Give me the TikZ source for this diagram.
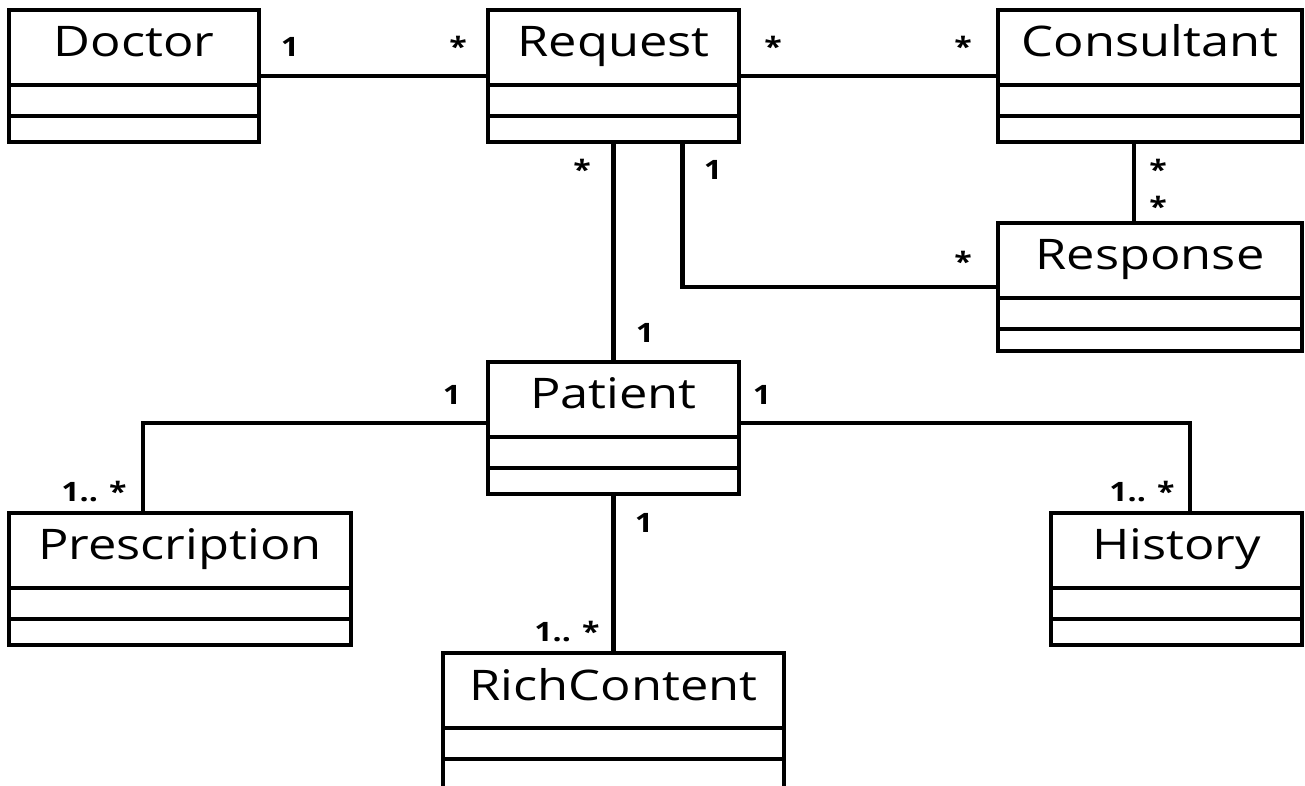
\documentclass[tikz,border=0pt]{standalone}
\usepackage{fontspec}
\setmainfont[FakeStretch=1.2]{Open Sans}
\usepackage{tikz}
\usetikzlibrary{positioning}

\tikzset{
    classbox/.style={draw, rectangle, inner sep=0pt, outer sep=0pt, minimum width=2.51cm, minimum height=1.32cm},
    classname/.style={anchor=base, inner sep=0pt, font=\fontsize{12}{14}\selectfont},
    mult/.style={anchor=base, inner sep=0pt, font=\fontsize{7.6}{9}\selectfont\bfseries}
}

% class box with name and two empty compartments
\newcommand{\umlclass}[4][]{%
    \node[classbox, #1] (#2) at (#3) {};
    \node[classname] (#2name) at ([yshift=-0.47cm]#2.north) {#4};
    \draw ([yshift=-0.75cm]#2.north west) -- ([yshift=-0.75cm]#2.north east);
    \draw ([yshift=-1.06cm]#2.north west) -- ([yshift=-1.06cm]#2.north east);
}

\begin{document}
\begin{tikzpicture}[line width=1.3pt]
                    \useasboundingbox (0,0) rectangle (13.05,-7.86);
                    % classes
                    \umlclass[minimum width=2.50cm]{doctor}{1.34,-0.76}{Doctor}
                    \umlclass{request}{6.135,-0.76}{Request}
                    \umlclass[minimum width=3.04cm]{consultant}{11.50,-0.76}{Consultant}
                    \umlclass[minimum width=3.04cm, minimum height=1.28cm]{response}{11.50,-2.87}{Response}
                    \umlclass{patient}{6.135,-4.28}{Patient}
                    \umlclass[minimum width=3.42cm]{prescription}{1.80,-5.79}{Prescription}
                    \umlclass{history}{11.765,-5.79}{History}
                    \umlclass[minimum width=3.41cm, minimum height=1.37cm]{richcontent}{6.135,-7.215}{RichContent}
                    % associations
                    \draw (doctor.east) -- (request.west);
                    \draw (request.east) -- (consultant.west);
                    \draw (request.south) -- (patient.north);
                    \draw ([xshift=0.69cm]request.south) |- (response.west);
                    \draw ([xshift=-0.16cm]consultant.south) -- ([xshift=-0.16cm]response.north);
                    \draw ([yshift=0.05cm]patient.west) -| ([xshift=-0.37cm]prescription.north);
                    \draw ([yshift=0.05cm]patient.east) -| ([xshift=0.135cm]history.north);
                    \draw (patient.south) -- (richcontent.north);
                    % multiplicities
                    \node[mult] (m1) at (2.90,-0.57) {1};
                    \node[mult] (m2) at (4.58,-0.57) {*};
                    \node[mult] (m3) at (7.73,-0.57) {*};
                    \node[mult] (m4) at (9.63,-0.57) {*};
                    \node[mult] (m5) at (5.82,-1.80) {*};
                    \node[mult] (m6) at (7.13,-1.80) {1};
                    \node[mult] (m7) at (11.58,-1.80) {*};
                    \node[mult] (m8) at (11.58,-2.17) {*};
                    \node[mult] (m9) at (9.63,-2.72) {*};
                    \node[mult] (m10) at (6.45,-3.43) {1};
                    \node[mult] (m11) at (4.52,-4.05) {1};
                    \node[mult] (m12) at (7.62,-4.05) {1};
                    \node[mult] (m13) at (0.94,-5.02) {1.. *};
                    \node[mult] (m14) at (6.44,-5.33) {1};
                    \node[mult] (m15) at (5.67,-6.42) {1.. *};
                    \node[mult] (m16) at (11.42,-5.02) {1.. *};
                \end{tikzpicture}
\end{document}
